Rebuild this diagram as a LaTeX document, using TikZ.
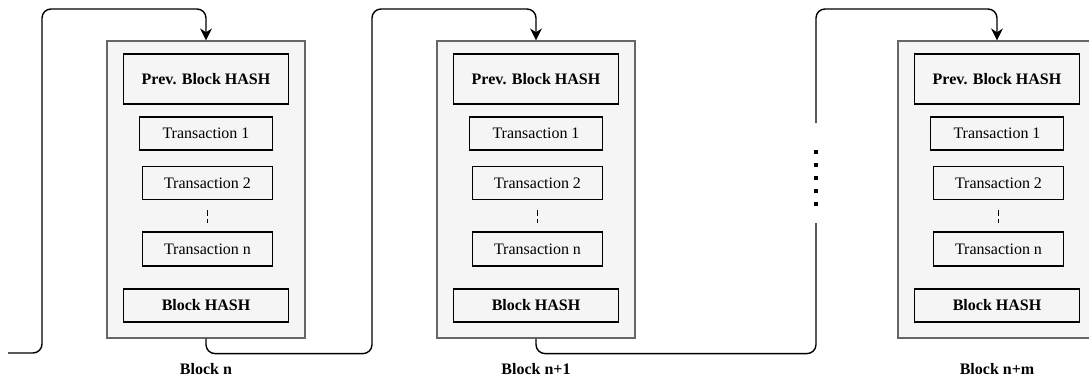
\documentclass[tikz,border=0pt]{standalone}
\usepackage{fontspec}
\setmainfont{Liberation Serif}
\usetikzlibrary{arrows.meta,positioning,calc}
\definecolor{blkfill}{RGB}{245,245,245}
\definecolor{blkedge}{RGB}{102,102,102}

\begin{document}
\begin{tikzpicture}[x=1pt,y=-1pt,
    font=\fontsize{16}{19}\selectfont,
    blk/.style={draw=blkedge,fill=blkfill,line width=1.2pt,
                minimum width=198pt,minimum height=297pt,inner sep=0pt},
    hashbox/.style={draw=black,line width=1.2pt,minimum width=165pt,
                inner sep=0pt,font=\fontsize{16}{19}\selectfont\bfseries},
    txbox/.style={draw=black,line width=1.2pt,minimum width=130pt,
                minimum height=33pt,inner sep=0pt},
    lbl/.style={font=\fontsize{16}{19}\selectfont\bfseries},
    link/.style={draw=black,line width=1.4pt,rounded corners=9pt},
    arr/.style={link,-{Stealth[length=12pt,width=12pt]}}
  ]
    \useasboundingbox (0,0) rectangle (1089,378);
    % the three blocks
    \foreach \cx/\i/\name in {206/1/n,536/2/n+1,997/3/n+m}{
      \node[blk] (blk\i) at (\cx,189.5) {};
      \node[hashbox,minimum height=50pt] (prev\i) at (\cx,79) {Prev. Block HASH};
      \node[txbox,minimum width=133pt] (txa\i) at (\cx,133.5) {Transaction 1};
      \node[txbox] (txb\i) at (\cx+1.5,183) {Transaction 2};
      \node[txbox,minimum height=34pt] (txn\i) at (\cx+1.5,249) {Transaction n};
      \node[hashbox,minimum height=33pt] (hash\i) at (\cx,305.5) {Block HASH};
      \draw[line width=1.2pt,dash pattern=on 5.5pt off 3.5pt,
            shorten <=10pt,shorten >=8pt] (txb\i.south) -- (txn\i.north);
      \node[lbl] (name\i) at (\cx,369) {Block \name};
    }
    % chain of hash links
    \coordinate (in0) at (8,353);
    \coordinate (r0) at (42,9);
    \coordinate (r1) at (372,9);
    \coordinate (r2) at (816,9);
    \coordinate (gapbot) at (816,223);
    \coordinate (gaptop) at (816,123);
    \draw[arr] (in0) -| (r0) -| (blk1.north);
    \draw[arr] (blk1.south) -- ++(0,15) -| (r1) -| (blk2.north);
    \draw[link] (blk2.south) -- ++(0,15) -| (gapbot);
    \draw[arr] (gaptop) -- (r2) -| (blk3.north);
    \foreach \y in {152,165,178,191,204}
      \fill (816,\y) +(-1.6,-1.6) rectangle +(1.6,1.6);
  \end{tikzpicture}
\end{document}
